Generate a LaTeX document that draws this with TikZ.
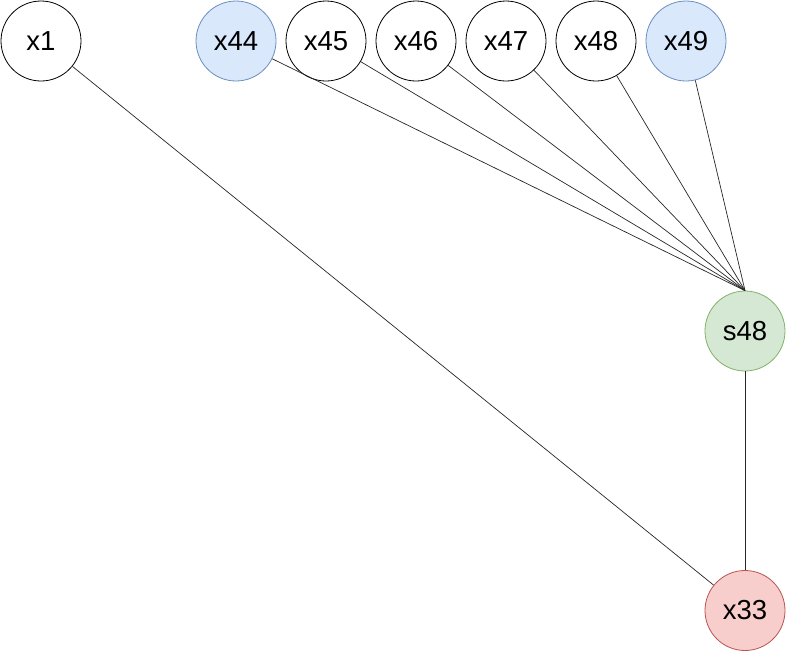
\documentclass[tikz,border=0pt]{standalone}
\usepackage{fontspec}
\setmainfont{Liberation Sans}
\definecolor{bluef}{HTML}{DAE8FC}\definecolor{blues}{HTML}{6C8EBF}
\definecolor{greenf}{HTML}{D5E8D4}\definecolor{greens}{HTML}{82B366}
\definecolor{redf}{HTML}{F8CECC}\definecolor{reds}{HTML}{B85450}
\tikzset{
  vnode/.style={circle, draw=black, fill=white, line width=0.8pt, minimum size=80pt, inner sep=0pt, font=\fontsize{27.5}{30}\selectfont},
  bluenode/.style={vnode, draw=blues, fill=bluef},
  greennode/.style={vnode, draw=greens, fill=greenf},
  rednode/.style={vnode, draw=reds, fill=redf},
  link/.style={draw=black!85, line width=0.7pt}
}
\begin{document}
\begin{tikzpicture}[x=1pt,y=-1pt]
\useasboundingbox (0,0) rectangle (787,651);
\node[vnode] (x1) at (41,41) {x1};
\node[bluenode] (x44) at (236,41) {x44};
\node[vnode] (x45) at (326,41) {x45};
\node[vnode] (x46) at (416,41) {x46};
\node[vnode] (x47) at (506,41) {x47};
\node[vnode] (x48) at (596,41) {x48};
\node[bluenode] (x49) at (686,41) {x49};
\node[greennode] (s48) at (745,331) {s48};
\node[rednode] (x33) at (745,610.5) {x33};
\foreach \n in {x44,x45,x46,x47,x48,x49} \draw[link] (\n) -- (s48.north);
\draw[link] (s48) -- (x33);
\draw[link] (x1) -- (x33);
\end{tikzpicture}
\end{document}
